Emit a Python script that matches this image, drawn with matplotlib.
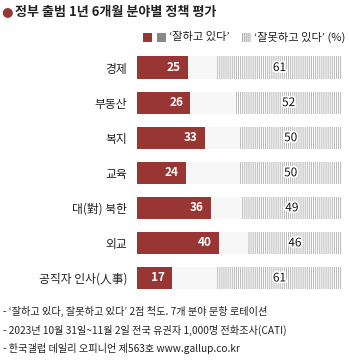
import matplotlib.pyplot as plt
import matplotlib.patheffects as pe
from matplotlib.patches import Rectangle

plt.rcParams['font.family'] = ['Noto Sans CJK KR', 'DejaVu Sans']
plt.rcParams['hatch.linewidth'] = 0.72

categories = ['경제', '부동산', '복지', '교육', '대(對) 북한', '외교', '공직자 인사(人事)']
good = [25, 26, 33, 24, 36, 40, 17]
bad = [61, 52, 50, 50, 49, 46, 61]

title = '정부 출범 1년 6개월 분야별 정책 평가'
notes = [
    '- ‘잘하고 있다, 잘못하고 있다’ 2점 척도. 7개 분야 문항 로테이션',
    '- 2023년 10월 31일~11월 2일 전국 유권자 1,000명 전화조사(CATI)',
    '- 한국갤럽 데일리 오피니언 제563호 www.gallup.co.kr',
]

red = '#983634'
hatch_gray = '#b8b8b8'
fill_gray = '#f7f7f7'

W, H = 349, 361
fig = plt.figure(figsize=(W / 100, H / 100), dpi=100)
ax = fig.add_axes([137 / W, 1 - 295.5 / H, 205 / W, 245.5 / H])

ys = list(range(len(categories)))
bh = 0.63
ax.barh(ys, [100] * len(ys), height=bh, color=fill_gray, linewidth=0)
ax.barh(ys, good, height=bh, color=red, linewidth=0)
ax.barh(ys, bad, left=[100 - b for b in bad], height=bh, color='white',
        edgecolor=hatch_gray, hatch='|' * 8, linewidth=0)

halo = [pe.withStroke(linewidth=2.5, foreground='white')]
for y, g, b in zip(ys, good, bad):
    ax.text(g - 3.5, y, str(g), ha='right', va='center', color='white',
            fontsize=8.5, fontweight='bold')
    ax.text(100 - b / 2, y, str(b), ha='center', va='center', color='#111111',
            fontsize=8.5, path_effects=halo)

ax.set_xlim(0, 100)
ax.set_ylim(len(ys) - 0.5, -0.5)
ax.set_yticks(ys)
ax.set_yticklabels(categories, fontsize=8.5, color='#222222')
ax.tick_params(axis='y', length=0, pad=7)
ax.set_xticks([])
for s in ax.spines.values():
    s.set_visible(False)

# title with marker dot
fig.text(7.5 / W, 1 - 12 / H, '●', color=red, fontsize=9.5, ha='center', va='center',
         family=['DejaVu Sans'])
fig.text(15 / W, 1 - 12 / H, title, fontsize=9.4, fontweight='bold', color='#222222',
         ha='left', va='center')

# legend
ly = 1 - 37 / H
sq = 9
fig.patches.append(Rectangle((143 / W, ly - sq / 2 / H), sq / W, sq / H,
                             transform=fig.transFigure, color=red, linewidth=0))
fig.patches.append(Rectangle((157 / W, ly - sq / 2 / H), sq / W, sq / H,
                             transform=fig.transFigure, color='#888888', linewidth=0))
fig.text(169 / W, ly, '‘잘하고 있다’', fontsize=8.1, color='#222222', ha='left', va='center')
fig.patches.append(Rectangle((242 / W, ly - sq / 2 / H), sq / W, sq / H,
                             transform=fig.transFigure, facecolor='white',
                             edgecolor='#999999', hatch='|' * 8, linewidth=0))
fig.text(254 / W, ly, '‘잘못하고 있다’ (%)', fontsize=8.1, color='#222222',
         ha='left', va='center')

for i, n in enumerate(notes):
    fig.text(3 / W, 1 - (311 + 19 * i) / H, n, fontsize=7.3, color='#222222',
             ha='left', va='center')

fig.savefig('out.png', dpi=100, facecolor='white')
